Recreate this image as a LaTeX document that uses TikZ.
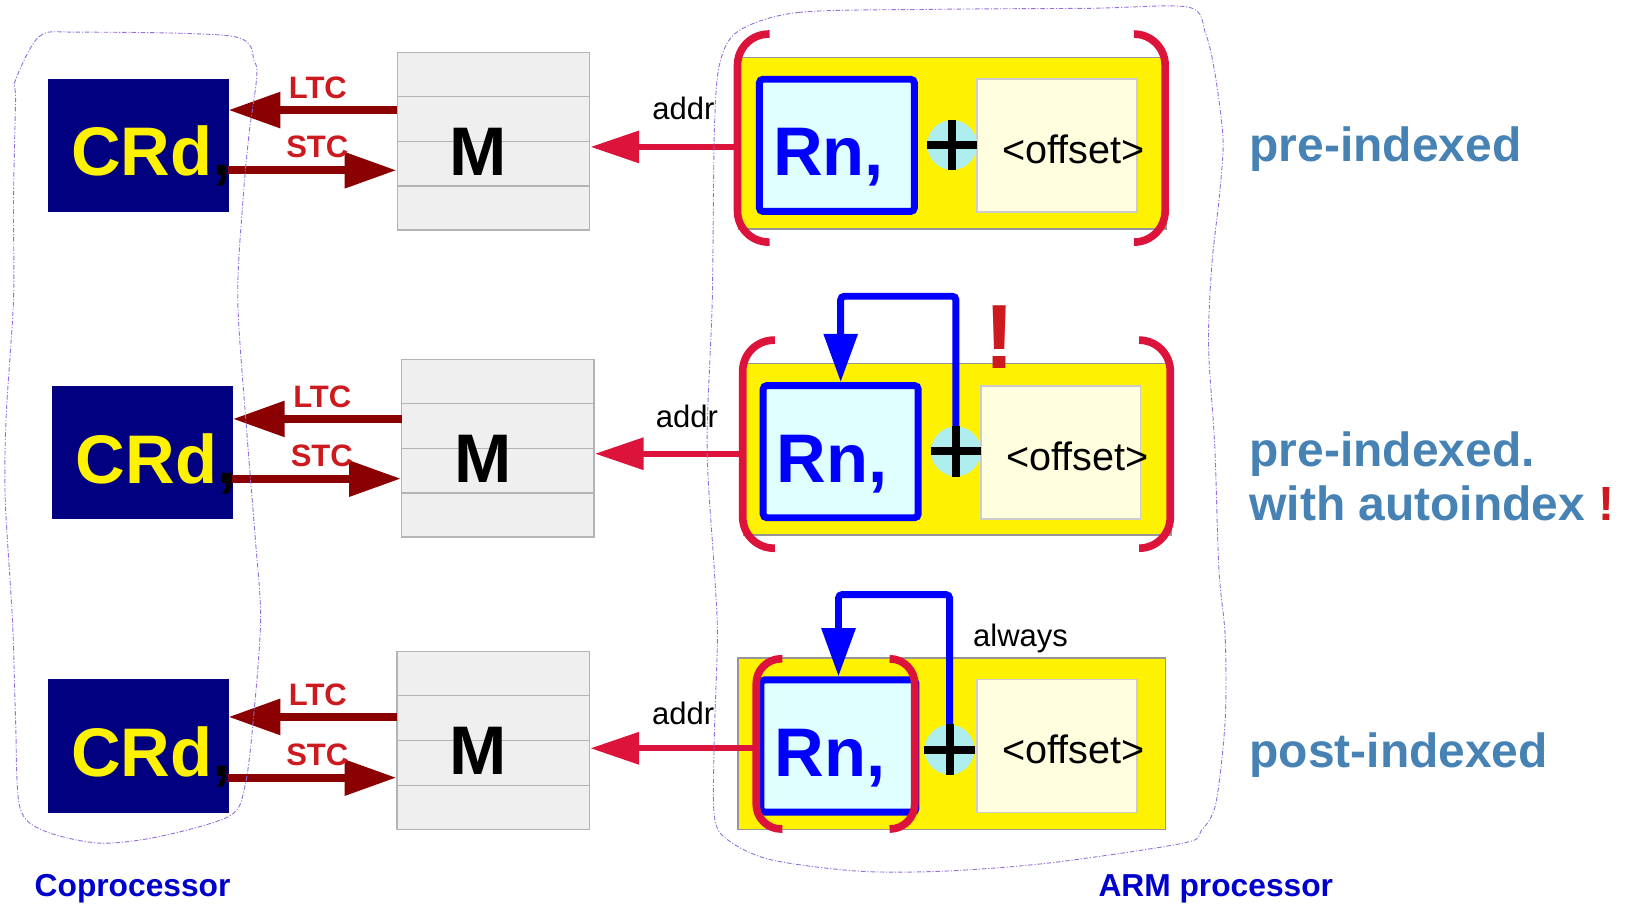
\documentclass[tikz,border=0pt]{standalone}
\usepackage{fontspec}
\setmainfont{Liberation Sans}
\usepackage{xcolor}
\usetikzlibrary{arrows.meta, positioning, calc}
\definecolor{crdblue}{RGB}{0,0,128}
\definecolor{ltcred}{RGB}{139,0,0}
\definecolor{lblred}{RGB}{204,26,30}
\definecolor{addrred}{RGB}{220,20,60}
\definecolor{memgray}{RGB}{239,239,239}
\definecolor{memline}{RGB}{180,180,180}
\definecolor{ylwline}{RGB}{150,150,150}
\definecolor{rncyan}{RGB}{224,255,255}
\definecolor{plusturq}{RGB}{175,238,238}
\definecolor{offyellow}{RGB}{255,255,224}
\definecolor{offline}{RGB}{204,204,204}
\definecolor{sideblue}{RGB}{70,130,180}
\definecolor{procblue}{RGB}{0,0,204}
\definecolor{blobline}{RGB}{147,112,219}

\begin{document}
\begin{tikzpicture}[x=0.02cm, y=-0.02cm,
      crd/.style={fill=crdblue, draw=crdblue, minimum width=3.464cm,
                  minimum height=2.56cm, inner sep=0pt},
      bigtxt/.style={anchor=base, inner sep=0pt,
                  font=\fontsize{37.7}{40}\selectfont\bfseries},
      mem/.style={fill=memgray, draw=memline, line width=0.8pt,
                  minimum width=3.708cm, minimum height=3.42cm, inner sep=0pt},
      memrow/.style={draw=memline, line width=0.8pt},
      ylw/.style={fill=yellow, draw=ylwline, line width=0.8pt,
                  minimum width=8.24cm, minimum height=3.3cm, inner sep=0pt},
      rn/.style={fill=rncyan, draw=blue, line width=3.8pt, rounded corners=2pt,
                  minimum width=2.986cm, minimum height=2.546cm, inner sep=0pt},
      plus/.style={circle, fill=plusturq, minimum size=0.96cm, inner sep=0pt},
      cross/.style={line width=4.4pt},
      off/.style={fill=offyellow, draw=offline, line width=0.8pt,
                  minimum width=3.08cm, minimum height=2.56cm, inner sep=0pt},
      offtxt/.style={anchor=base, inner sep=0pt, font=\fontsize{21.7}{24}\selectfont},
      brk/.style={draw=addrred, line width=4.2pt, rounded corners=0.6cm},
      ltc/.style={draw=ltcred, line width=4.4pt, -{Triangle[length=1cm, width=0.66cm]}},
      ltclbl/.style={anchor=base, inner sep=0pt, text=lblred,
                  font=\fontsize{17}{20}\selectfont\bfseries},
      addr/.style={draw=addrred, line width=3.4pt, -{Triangle[length=0.94cm, width=0.6cm]}},
      addrlbl/.style={anchor=base, inner sep=0pt, font=\fontsize{17}{20}\selectfont},
      fb/.style={draw=blue, line width=3.8pt, rounded corners=2pt,
                  -{Triangle[length=0.93cm, width=0.63cm]}},
      side/.style={anchor=base west, inner sep=0pt, text=sideblue,
                  font=\fontsize{26.3}{30}\selectfont\bfseries},
      proc/.style={anchor=base, inner sep=0pt, text=procblue,
                  font=\fontsize{17.4}{20}\selectfont\bfseries},
      blob/.style={draw=blobline, line width=0.5pt,
                  dash pattern=on 2.5pt off 1pt on 0.6pt off 1pt}]

    \useasboundingbox (0,0) rectangle (1568,871);

    % row 1: pre-indexed
    \node[crd] (crdA) at (133,140) {};
    \node[bigtxt, text=yellow] (crdtA) at ($(crdA)+(3.7,29.5)$) {CRd\rlap{\color{black},}};
    \node[mem] (mA) at (475.3,136.2) {};
    \foreach \f in {0.25,0.5,0.75}
      \draw[memrow] ($(mA.north west)!\f!(mA.south west)$) -- ($(mA.north east)!\f!(mA.south east)$);
    \node[bigtxt] (mtA) at ($(mA)+(-14.5,32.8)$) {M};
    \node[ylw] (ylwA) at (917,138) {};
    \node[rn] (rnA) at (806,140) {};
    \node[bigtxt, text=blue] (rntA) at ($(rnA)+(-8,29.5)$) {Rn,};
    \node[off] (offA) at (1018,140) {};
    \node[offtxt] (offtA) at ($(offA)+(16,17.3)$) {<offset>};
    \node[plus] (plusA) at (917,139.6) {};
    \draw[cross] (plusA.north) -- (plusA.south) (plusA.west) -- (plusA.east);
    \draw[brk] ($(ylwA.north west)+(31,-22)$) -- ($(ylwA.north west)+(0,-22)$)
               -- ($(ylwA.south west)+(0,12)$) -- ($(ylwA.south west)+(31,12)$);
    \draw[brk] ($(ylwA.north east)+(-31,-22)$) -- ($(ylwA.north east)+(-1.5,-22)$)
               -- ($(ylwA.south east)+(-1.5,12)$) -- ($(ylwA.south east)+(-31,12)$);
    \coordinate (ltcA) at (382.6,106);
    \coordinate (stcA) at (219.6,164);
    \coordinate (addrA) at (711.7,141.5);
    \draw[ltc] (ltcA) -- node[ltclbl, pos=0.47, yshift=0.22cm] {LTC} (ltcA -| crdA.east);
    \draw[ltc] (stcA) -- node[ltclbl, pos=0.53, yshift=0.24cm] {STC} (stcA -| mA.west);
    \draw[addr] (addrA) -- node[addrlbl, pos=0.374, yshift=0.53cm] {addr} (addrA -| mA.east);
    \node[side] (sideA) at (1203,156) {pre-indexed};

    % row 2: pre-indexed with autoindex
    \node[crd] (crdB) at (137.3,435.7) {};
    \node[bigtxt, text=yellow] (crdtB) at ($(crdB)+(3.7,29.5)$) {CRd\rlap{\color{black},}};
    \node[mem] (mB) at (479.6,431.9) {};
    \foreach \f in {0.25,0.5,0.75}
      \draw[memrow] ($(mB.north west)!\f!(mB.south west)$) -- ($(mB.north east)!\f!(mB.south east)$);
    \node[bigtxt] (mtB) at ($(mB)+(-14.5,32.8)$) {M};
    \node[ylw] (ylwB) at (922,432.8) {};
    \node[rn] (rnB) at (809.7,435) {};
    \node[bigtxt, text=blue] (rntB) at ($(rnB)+(-8,29.5)$) {Rn,};
    \node[off] (offB) at (1021.7,435.7) {};
    \node[offtxt] (offtB) at ($(offB)+(16,17.3)$) {<offset>};
    \node[plus] (plusB) at (920.7,434.7) {};
    \draw[fb] (plusB.north) -- ++(0,-125) -| (rnB.north);
    \draw[cross] (plusB.north) -- (plusB.south) (plusB.west) -- (plusB.east);
    \draw[brk] ($(ylwB.north west)+(31,-22)$) -- ($(ylwB.north west)+(0,-22)$)
               -- ($(ylwB.south west)+(0,12)$) -- ($(ylwB.south west)+(31,12)$);
    \draw[brk] ($(ylwB.north east)+(-31,-22)$) -- ($(ylwB.north east)+(-1.5,-22)$)
               -- ($(ylwB.south east)+(-1.5,12)$) -- ($(ylwB.south east)+(-31,12)$);
    \node[anchor=base, inner sep=0pt, text=lblred, font=\fontsize{50}{50}\selectfont\bfseries]
      (bangB) at (963,354.5) {!};
    \coordinate (ltcB) at (386.9,403.5);
    \coordinate (stcB) at (223.9,461);
    \coordinate (addrB) at (714.7,437);
    \draw[ltc] (ltcB) -- node[ltclbl, pos=0.47, yshift=0.22cm] {LTC} (ltcB -| crdB.east);
    \draw[ltc] (stcB) -- node[ltclbl, pos=0.53, yshift=0.24cm] {STC} (stcB -| mB.west);
    \draw[addr] (addrB) -- node[addrlbl, pos=0.374, yshift=0.5cm] {addr} (addrB -| mB.east);
    \node[side] (sideB) at (1203,449) {pre-indexed.};
    \node[side] (sideB2) at (1203,501) {with autoindex {\color{lblred}!}};

    % row 3: post-indexed
    \node[crd] (crdC) at (133,718.2) {};
    \node[bigtxt, text=yellow] (crdtC) at ($(crdC)+(3.7,29.5)$) {CRd\rlap{\color{black},}};
    \node[mem] (mC) at (475.2,713.2) {};
    \foreach \f in {0.25,0.5,0.75}
      \draw[memrow] ($(mC.north west)!\f!(mC.south west)$) -- ($(mC.north east)!\f!(mC.south east)$);
    \node[bigtxt] (mtC) at ($(mC)+(-14.5,32.8)$) {M};
    \node[ylw] (ylwC) at (916.75,716.35) {};
    \node[rn] (rnC) at (807.6,718.5) {};
    \node[bigtxt, text=blue] (rntC) at ($(rnC)+(-8,29.5)$) {Rn,};
    \node[off] (offC) at (1018,718.4) {};
    \node[offtxt] (offtC) at ($(offC)+(16,17.3)$) {<offset>};
    \node[plus] (plusC) at (914.6,722) {};
    \draw[fb] (plusC.north) -- ++(0,-125) -| (rnC.north);
    \draw[cross] (plusC.north) -- (plusC.south) (plusC.west) -- (plusC.east);
    \draw[brk, rounded corners=0.48cm] ($(rnC.north west)+(24,-17)$) -- ($(rnC.north west)+(-1.3,-17)$)
               -- ($(rnC.south west)+(-1.3,13)$) -- ($(rnC.south west)+(24,13)$);
    \draw[brk, rounded corners=0.48cm] ($(rnC.north east)+(-27,-17)$) -- ($(rnC.north east)+(-4.6,-17)$)
               -- ($(rnC.south east)+(-4.6,13)$) -- ($(rnC.south east)+(-27,13)$);
    \node[addrlbl, anchor=base west] (alwC) at (937,622.8) {always};
    \coordinate (ltcC) at (382.6,690.5);
    \coordinate (stcC) at (219.6,749);
    \coordinate (addrC) at (728.3,720.7);
    \draw[ltc] (ltcC) -- node[ltclbl, pos=0.47, yshift=0.22cm] {LTC} (ltcC -| crdC.east);
    \draw[ltc] (stcC) -- node[ltclbl, pos=0.53, yshift=0.24cm] {STC} (stcC -| mC.west);
    \draw[addr] (addrC) -- node[addrlbl, pos=0.44, yshift=0.45cm] {addr} (addrC -| mC.east);
    \node[side] (sideC) at (1203,739) {post-indexed};

    % the two units
    \draw[blob] plot[smooth cycle, tension=0.5] coordinates {
      (15,77) (38,35) (76,31) (224,35) (245,59) (247,77) (240,128) (234,193)
      (229,289) (238,420) (246,520) (251,597) (244,693) (236,757) (221,786)
      (152,806) (95,812) (42,800) (19,777) (15,693) (12,597) (5,480) (6,400)
      (13,289) (13,193) (15,96)};
    \draw[blob] plot[smooth cycle, tension=0.5] coordinates {
      (711,30) (769,12) (900,9) (1050,8) (1145,7) (1161,32) (1169,64) (1176,112)
      (1178,144) (1174,193) (1167,257) (1164,334) (1170,430) (1174,549)
      (1180,613) (1180,694) (1171,774) (1157,800) (1140,812) (1012,831)
      (910,839) (826,839) (742,828) (701,809) (688,786) (688,709) (691,613)
      (688,549) (681,430) (686,289) (688,128) (693,62)};
    \node[proc] (copro) at (127.7,863) {Coprocessor};
    \node[proc] (armpro) at (1171,863) {ARM processor};
  \end{tikzpicture}
\end{document}
